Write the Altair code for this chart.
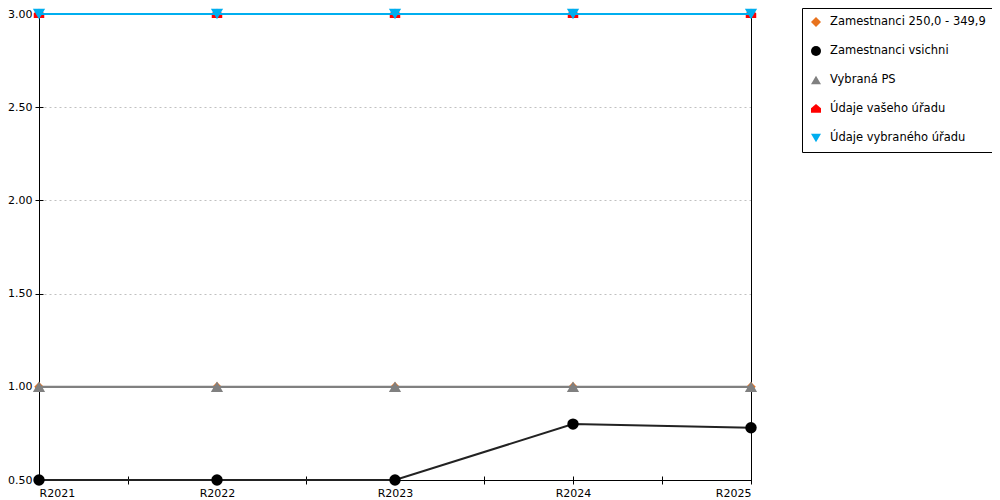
import altair as alt
import pandas as pd

years = ["R2021", "R2022", "R2023", "R2024", "R2025"]
series = [
    "Zamestnanci 250,0 - 349,9",
    "Zamestnanci vsichni",
    "Vybraná PS",
    "Údaje vašeho úřadu",
    "Údaje vybraného úřadu",
]
values = {
    "Zamestnanci 250,0 - 349,9": [1.0, 1.0, 1.0, 1.0, 1.0],
    "Zamestnanci vsichni": [0.5, 0.5, 0.5, 0.8, 0.78],
    "Vybraná PS": [1.0, 1.0, 1.0, 1.0, 1.0],
    "Údaje vašeho úřadu": [3.0, 3.0, 3.0, 3.0, 3.0],
    "Údaje vybraného úřadu": [3.0, 3.0, 3.0, 3.0, 3.0],
}
colors = ["#e8731e", "#000000", "#808080", "#ff0000", "#00aeef"]
line_colors = ["#e8731e", "#222222", "#808080", "#ff0000", "#00aeef"]
line_widths = [1.2, 2, 2.2, 1.5, 2]
house = "M0,-1L1,-0.15L1,0.75L-1,0.75L-1,-0.15Z"
shapes = ["diamond", "circle", "triangle-up", house, "triangle-down"]
sizes = [90, 130, 150, 110, 150]
y_ticks = [0.5, 1.0, 1.5, 2.0, 2.5, 3.0]

FONT = "Verdana, DejaVu Sans, sans-serif"

rows = []
for s in series:
    for i, v in enumerate(values[s]):
        rows.append({"series": s, "idx": i, "year": years[i], "value": v})
data = pd.DataFrame(rows)

label_expr = "[" + ",".join(f"'{y}'" for y in years) + "][datum.value]"
x_scale = alt.Scale(domain=[0, len(years) - 1], nice=False, zero=False)
y_scale = alt.Scale(domain=[y_ticks[0], y_ticks[-1]], nice=False, zero=False)
color_scale = alt.Scale(domain=series, range=colors)
shape_scale = alt.Scale(domain=series, range=shapes)

x_label_axis = alt.Axis(
    orient="bottom", values=list(range(len(years))), labelExpr=label_expr,
    ticks=False, grid=False, domainColor="#000000", domainWidth=1,
    labelFont=FONT, labelFontSize=11, labelColor="#000000", labelPadding=7,
    title=None,
)
x_tick_axis = alt.Axis(
    orient="bottom", values=[i / 2 for i in range(2 * len(years) - 1)],
    labels=False, domain=False, grid=False, tickSize=8, offset=-4,
    tickColor="#000000", title=None,
)
y_label_axis = alt.Axis(
    orient="left", values=y_ticks, format=".2f", ticks=False,
    grid=True, gridColor="#c0c0c0", gridDash=[2, 3],
    domainColor="#000000", labelFont=FONT, labelFontSize=11,
    labelColor="#000000", labelPadding=7, title=None,
)
y_tick_axis = alt.Axis(
    orient="left", values=y_ticks, labels=False, domain=False, grid=False,
    tickSize=8, offset=-4, tickColor="#000000", title=None,
)
y_right_axis = alt.Axis(
    orient="right", labels=False, ticks=False, grid=False,
    domainColor="#000000", title=None,
)

layers = []
for n, s in enumerate(series):
    sub = data[data["series"] == s]
    if n == 0:
        xa, ya = x_label_axis, y_label_axis
    elif n == 1:
        xa, ya = x_tick_axis, y_tick_axis
    elif n == 2:
        xa, ya = None, y_right_axis
    else:
        xa, ya = None, None
    line = alt.Chart(sub).mark_line(
        color=line_colors[n], strokeWidth=line_widths[n]
    ).encode(
        x=alt.X("idx:Q", scale=x_scale, axis=xa),
        y=alt.Y("value:Q", scale=y_scale, axis=ya),
    )
    points = alt.Chart(sub).mark_point(
        filled=True, opacity=1, size=sizes[n]
    ).encode(
        x=alt.X("idx:Q", scale=x_scale, axis=None),
        y=alt.Y("value:Q", scale=y_scale, axis=None),
        color=alt.Color("series:N", scale=color_scale, title=None),
        shape=alt.Shape("series:N", scale=shape_scale, title=None),
        tooltip=["series:N", "year:N", "value:Q"],
    )
    layers += [line, points]

chart = (
    alt.layer(*layers)
    .resolve_axis(x="independent", y="independent")
    .properties(
        width=712,
        height=466,
        background="#ffffff",
        autosize=alt.AutoSizeParams(type="none"),
        padding={"left": 31, "top": 6, "right": 241, "bottom": 20},
    )
    .configure_view(stroke=None)
    .configure_legend(
        orient="none",
        legendX=763,
        legendY=-6,
        strokeColor="#000000",
        fillColor="#ffffff",
        padding=8,
        rowPadding=17,
        symbolSize=100,
        symbolOffset=0,
        labelOffset=8,
        labelFont=FONT,
        labelFontSize=11.5,
        labelColor="#000000",
        labelLimit=300,
        cornerRadius=0,
    )
)

chart.save("out.html", embed_options={"renderer": "svg", "actions": False})
